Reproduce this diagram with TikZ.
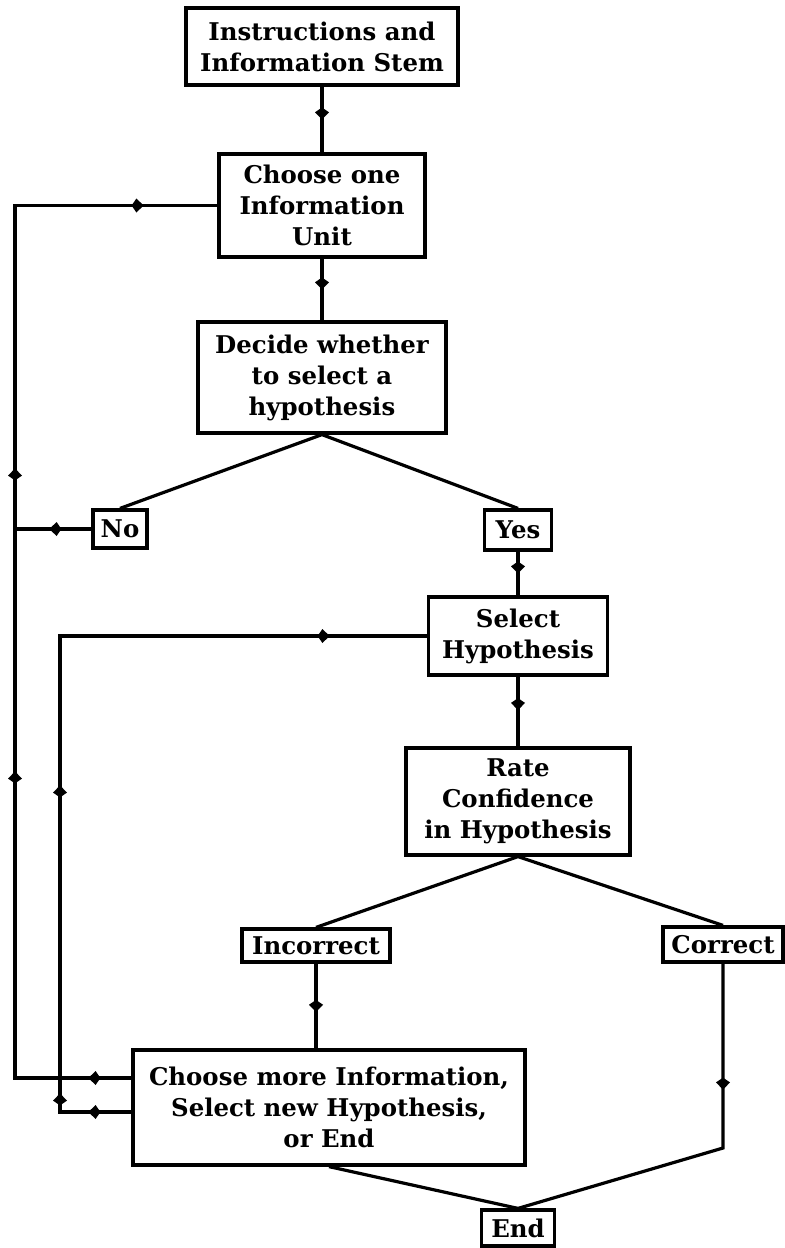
\documentclass[tikz,border=0pt]{standalone}
\usepackage{fontspec}
\setmainfont{DejaVu Serif}
\usetikzlibrary{arrows.meta,decorations.markings}

\begin{document}
\begin{tikzpicture}
[
x=0.5pt, y=-0.5pt,
box/.style={draw, line width=1.6pt, align=center, inner sep=0pt, font=\bfseries\fontsize{12.2}{15.5}\selectfont},
flow/.style={draw, line width=1.6pt},
tip at/.style={postaction={decorate, decoration={markings, mark=at position #1 with {\arrow{Kite[length=6pt,width=7pt,inset=2.4pt]}}}}}
]
\useasboundingbox (0,0) rectangle (785,1248);

\node[box, minimum width=136pt, minimum height=38.5pt] (stem) at (322,46.5) {Instructions and\\Information Stem};
\node[box, minimum width=103pt, minimum height=51.5pt] (choose) at (322,205.5) {Choose one\\Information\\Unit};
\node[box, minimum width=124pt, minimum height=55.5pt] (decide) at (322,377.5) {Decide whether\\to select a\\hypothesis};
\node[box, minimum width=27pt, minimum height=19pt] (no) at (120,529) {No};
\node[box, minimum width=33.5pt, minimum height=20pt] (yes) at (518,530) {Yes};
\node[box, minimum width=89.5pt, minimum height=39pt] (select) at (518,636) {Select\\Hypothesis};
\node[box, minimum width=112pt, minimum height=53.5pt] (rate) at (518,801.5) {Rate\\Confidence\\in Hypothesis};
\node[box, minimum width=74pt, minimum height=16.5pt] (incorrect) at (316,945.5) {Incorrect};
\node[box, minimum width=60pt, minimum height=17.5pt] (correct) at (723,944.5) {Correct};
\node[box, minimum width=196pt, minimum height=57.5pt] (more) at (329,1107.5) {Choose more Information,\\Select new Hypothesis,\\or End};
\node[box, minimum width=36.5pt, minimum height=18pt] (end) at (518,1228) {End};

\coordinate (outer top) at (15,205.5);
\coordinate (outer bot) at (15,1078);
\coordinate (inner top) at (60,636);
\coordinate (inner bot) at (60,1112);
\coordinate (no loop) at (15,529);
\coordinate (end bend) at (723,1148);

\draw[flow, tip at=0.5] (stem) -- (choose);
\draw[flow, tip at=0.5] (choose) -- (decide);
\draw[flow] (no.north) -- (decide.south) -- (yes.north);
\draw[flow, tip at=0.55] (no.west) -- (no loop);
\draw[flow, tip at=0.5] (yes) -- (select);
\draw[flow, tip at=0.48] (select) -- (rate);
\draw[flow] (incorrect.north) -- (rate.south) -- (correct.north);
\draw[flow, tip at=0.57] (incorrect) -- (incorrect |- more.north);
\draw[flow, tip at=21.5pt, tip at=211.5pt, tip at=363pt, tip at=558.75pt] (more.west |- outer bot) -- (outer bot) -- (outer top) -- (choose.west);
\draw[flow, tip at=21.5pt, tip at=45pt, tip at=199pt, tip at=408.5pt] (more.west |- inner bot) -- (inner bot) -- (inner top) -- (select.west);
\draw[flow, tip at=63pt] (correct.south) -- (end bend) -- (end.north);
\draw[flow] (more.south) -- (end.north);
\end{tikzpicture}
\end{document}
